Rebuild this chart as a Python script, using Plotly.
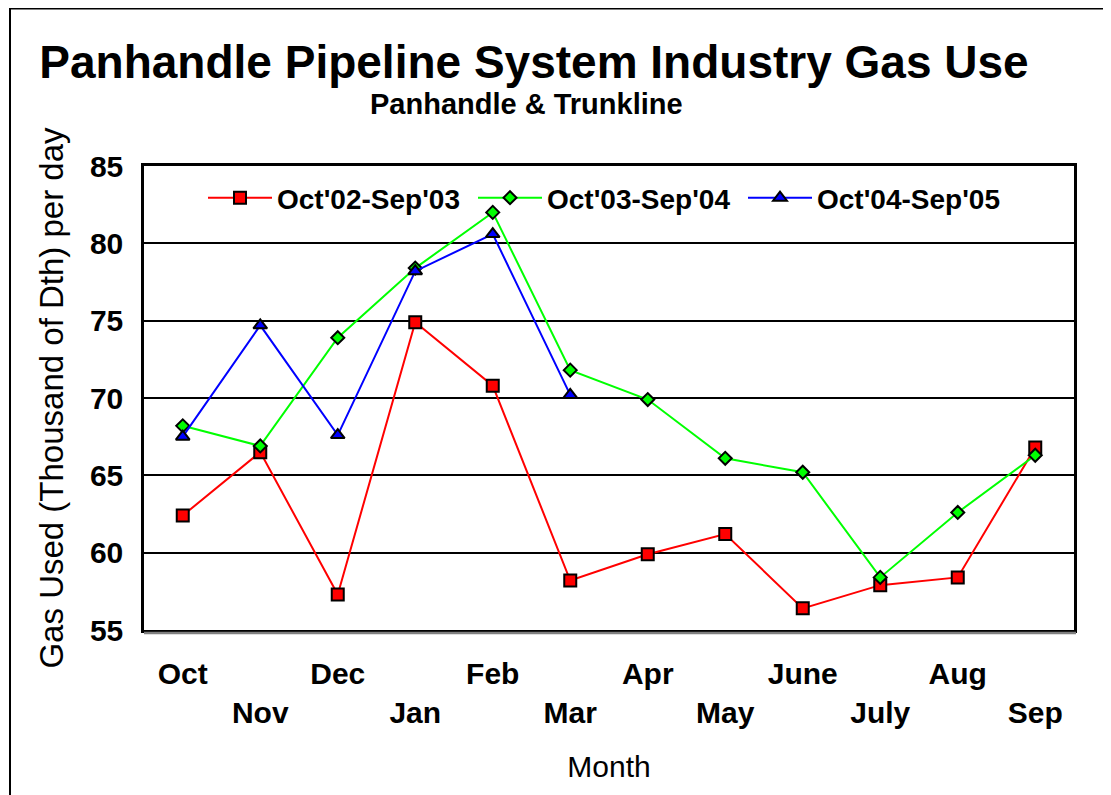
import plotly.graph_objects as go

months = ["Oct", "Nov", "Dec", "Jan", "Feb", "Mar", "Apr", "May", "June", "July", "Aug", "Sep"]
series_names = ["Oct'02-Sep'03", "Oct'03-Sep'04", "Oct'04-Sep'05"]
gas_02_03 = [62.4, 66.5, 57.3, 74.9, 70.8, 58.2, 59.9, 61.2, 56.4, 57.9, 58.4, 66.8]
gas_03_04 = [68.2, 66.9, 73.9, 78.4, 82.0, 71.8, 69.9, 66.1, 65.2, 58.4, 62.6, 66.3]
gas_04_05 = [67.5, 74.7, 67.6, 78.2, 80.6, 70.2]
y_ticks = [55, 60, 65, 70, 75, 80, 85]

FONT = "Liberation Sans, Arial, sans-serif"
x_idx = list(range(len(months)))
# staggered tick labels: every second label goes to second row
tick_text = [m if i % 2 == 0 else "<br>" + m for i, m in enumerate(months)]

fig = go.Figure()
fig.add_trace(go.Scatter(
    x=x_idx, y=gas_02_03, name=series_names[0], mode="lines+markers",
    line=dict(color="#FF0000", width=2),
    marker=dict(symbol="square", size=12, color="#FF0000", line=dict(color="black", width=2)),
))
fig.add_trace(go.Scatter(
    x=x_idx, y=gas_03_04, name=series_names[1], mode="lines+markers",
    line=dict(color="#00FF00", width=2),
    marker=dict(symbol="diamond", size=10, color="#00FF00", line=dict(color="black", width=2)),
))
fig.add_trace(go.Scatter(
    x=x_idx[:len(gas_04_05)], y=gas_04_05, name=series_names[2], mode="lines+markers",
    line=dict(color="#0000FF", width=2),
    marker=dict(symbol="triangle-up", size=12, color="#0000FF", line=dict(color="black", width=2)),
))

OFF = 8  # page body margin
W, H = 1111, 795
L, T = 144 - OFF, 166 - OFF
R = W - (1074 - OFF)
B = H - (630 - OFF)
pw, ph = W - L - R, H - T - B


def px(xp):  # page x -> paper x
    return (xp - OFF - L) / pw


def py(yp):  # page y -> paper y
    return 1 - (yp - OFF - T) / ph


fig.update_layout(
    width=W, height=H,
    margin=dict(l=L, r=R, t=T, b=B),
    paper_bgcolor="white", plot_bgcolor="white",
    font=dict(family=FONT, color="black"),
    title=dict(
        text="<b>Panhandle Pipeline System Industry Gas Use</b>",
        font=dict(size=46, family=FONT, color="black"),
        xref="container", x=(534 - OFF) / W, xanchor="center",
        yref="container", y=1 - (62 - OFF) / H, yanchor="middle",
    ),
    showlegend=True,
    legend=dict(
        orientation="h", x=px(203), xanchor="left",
        y=py(198), yanchor="middle",
        bgcolor="rgba(0,0,0,0)", borderwidth=0,
        font=dict(size=28, family=FONT, color="black", weight="bold"),
        itemwidth=64,
        entrywidth=191, entrywidthmode="pixels",
    ),
    xaxis=dict(
        range=[-0.5, 11.5], tickvals=x_idx, ticktext=tick_text,
        showgrid=False, zeroline=False,
        showline=True, linecolor="black", linewidth=2.5, mirror=True,
        ticks="", ticklabelstandoff=15,
        tickfont=dict(size=30, family=FONT, color="black", weight="bold"),
        title=dict(text="Month", font=dict(size=30, family=FONT, color="black"), standoff=29),
        automargin=False,
    ),
    yaxis=dict(
        range=[55, 85], tickvals=y_ticks,
        showgrid=True, gridcolor="black", gridwidth=2, zeroline=False,
        showline=True, linecolor="black", linewidth=2.5, mirror=True,
        ticks="", ticklabelstandoff=12,
        tickfont=dict(size=30, family=FONT, color="black", weight="bold"),
        title=dict(text="Gas Used (Thousand of Dth) per day",
                   font=dict(size=33, family=FONT, color="black"), standoff=17),
        automargin=False,
    ),
    annotations=[dict(
        text="<b>Panhandle & Trunkline</b>", xref="paper", yref="paper",
        x=px(526), y=py(104), xanchor="center", yanchor="middle",
        showarrow=False, font=dict(size=29, family=FONT, color="black"),
    )],
    shapes=[
        # outer chart border (extends past the right and bottom edge of the view)
        dict(type="rect", xref="paper", yref="paper",
             x0=px(10), x1=px(1140), y0=py(830), y1=py(8.5),
             line=dict(color="black", width=2), fillcolor="rgba(0,0,0,0)", layer="below"),
        # gray shadow under plot area
        dict(type="line", xref="paper", yref="paper",
             x0=0, x1=px(1076), y0=-3 / ph, y1=-3 / ph,
             line=dict(color="#808080", width=2.5)),
    ],
)

fig.write_html("out.html")
